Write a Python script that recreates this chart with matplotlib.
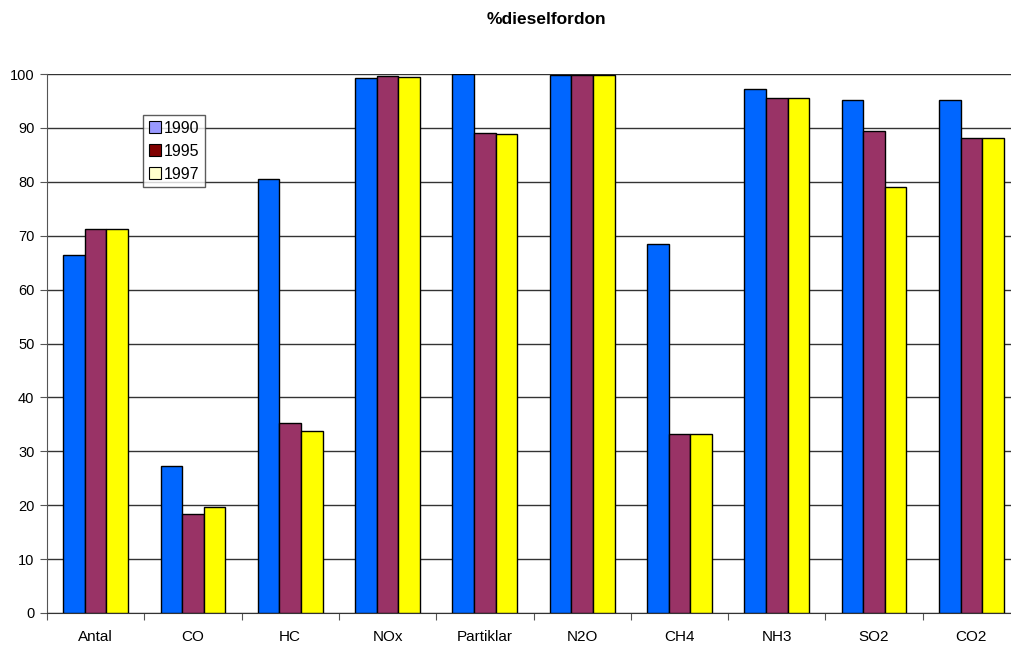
import numpy as np
import matplotlib.pyplot as plt
from matplotlib.patches import Patch

plt.rcParams['font.family'] = ['Liberation Sans', 'DejaVu Sans']

# Data
categories = ['Antal', 'CO', 'HC', 'NOx', 'Partiklar', 'N2O', 'CH4', 'NH3', 'SO2', 'CO2']
years = ['1990', '1995', '1997']
v1990 = [66.5, 27.3, 80.5, 99.3, 100.0, 99.8, 68.5, 97.2, 95.2, 95.2]
v1995 = [71.2, 18.3, 35.2, 99.6, 89.0, 99.9, 33.3, 95.6, 89.5, 88.2]
v1997 = [71.2, 19.7, 33.7, 99.5, 88.8, 99.9, 33.3, 95.6, 79.1, 88.2]

bar_colors = ['#0066FF', '#993366', '#FFFF00']
legend_colors = ['#9999FF', '#800000', '#FFFFCC']

fig = plt.figure(figsize=(10.11, 6.46), dpi=100)
ax = fig.add_axes([47 / 1011, 33 / 646, 973 / 1011, 539 / 646])

x = np.arange(len(categories))
w = 0.222
for i, vals in enumerate([v1990, v1995, v1997]):
    ax.bar(x + (i - 1) * w, vals, w, color=bar_colors[i], edgecolor='black',
           linewidth=1, zorder=3)

ax.set_xlim(-0.5, len(categories) - 0.5)
ax.set_ylim(0, 100)
ax.set_yticks(range(0, 101, 10))
ax.yaxis.grid(True, color='#333333', linewidth=1)
ax.set_axisbelow(True)

# boundary ticks, labels centred
ax.set_xticks(np.arange(-0.5, len(categories), 1))
ax.set_xticklabels([])
ax.set_xticks(x, minor=True)
ax.set_xticklabels(categories, minor=True)
ax.tick_params(axis='x', which='minor', length=0, pad=12, labelsize=11)
ax.tick_params(axis='x', which='major', length=5, color='#555555')
ax.tick_params(axis='y', length=5, color='#555555', labelsize=10.5, pad=4)

for s in ['top', 'right']:
    ax.spines[s].set_visible(False)
ax.spines['left'].set_color('#555555')
ax.spines['bottom'].set_color('#333333')

handles = [Patch(facecolor=c, edgecolor='black', linewidth=0.8) for c in legend_colors]
leg = ax.legend(handles, years, loc='upper left', bbox_to_anchor=(96 / 973, 498 / 539),
                fontsize=11.5, frameon=True, fancybox=False, handlelength=0.8,
                handleheight=0.8, handletextpad=0.15, borderpad=0.35, labelspacing=0.5,
                borderaxespad=0)
leg.get_frame().set_edgecolor('#333333')
leg.get_frame().set_linewidth(1)
leg.set_zorder(5)

fig.text(546 / 1011, 1 - 20 / 646, '%dieselfordon', ha='center', va='center',
         fontsize=12.5, fontweight='bold')

fig.savefig('out.png', dpi=100)
